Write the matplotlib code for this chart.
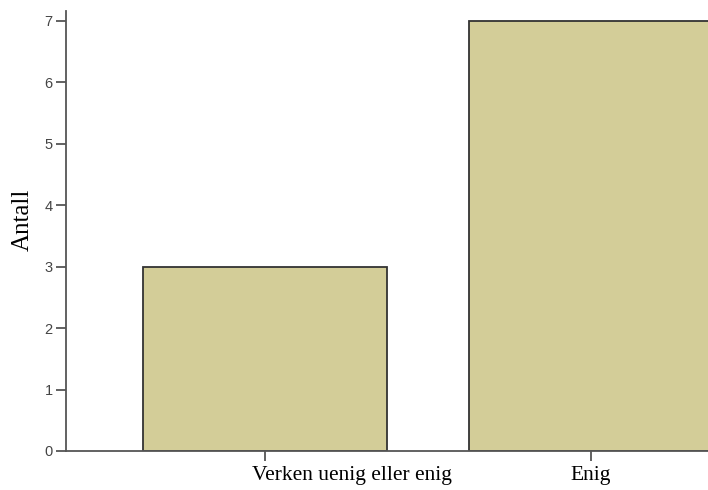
import numpy as np
import matplotlib.pyplot as plt
import matplotlib.transforms as mtransforms

categories = ["Verken uenig eller enig", "Enig"]
counts = [3, 7]
yticks = [0, 1, 2, 3, 4, 5, 6, 7]

fig = plt.figure(figsize=(7.08, 4.90), dpi=100)
ax = fig.add_axes([0.0932, 0.0796, 0.9068, 0.898])

x = np.arange(len(categories))
ax.bar(x, counts, width=0.748, color="#d3cd98", edgecolor="#333333", linewidth=1.3, zorder=2)

ax.set_xlim(-0.61, 1.359)
ax.set_ylim(0, 7.16)
ax.set_yticks(yticks)
ax.set_yticklabels([str(v) for v in yticks], fontsize=10.5, color="#444444", family="Liberation Sans")
ax.set_xticks(x)
ax.set_xticklabels(categories, fontsize=15.5, family="Liberation Serif", color="black")

for side in ["top", "right"]:
    ax.spines[side].set_visible(False)
for side in ["left", "bottom"]:
    ax.spines[side].set_color("#555555")
    ax.spines[side].set_linewidth(1.3)
ax.tick_params(axis="y", length=7.5, width=1.3, color="#555555", pad=2)
ax.tick_params(axis="x", length=7.5, width=1.3, color="#555555", pad=3)

# the first label sits to the right of its tick in the original
lab = ax.get_xticklabels()[0]
lab.set_transform(lab.get_transform() + mtransforms.ScaledTranslation(0.87, 0, fig.dpi_scale_trans))

ax.set_ylabel("Antall", fontsize=18, family="Liberation Serif")
ax.yaxis.set_label_coords(-0.05, 0.525)

fig.savefig("out.png", dpi=100)
